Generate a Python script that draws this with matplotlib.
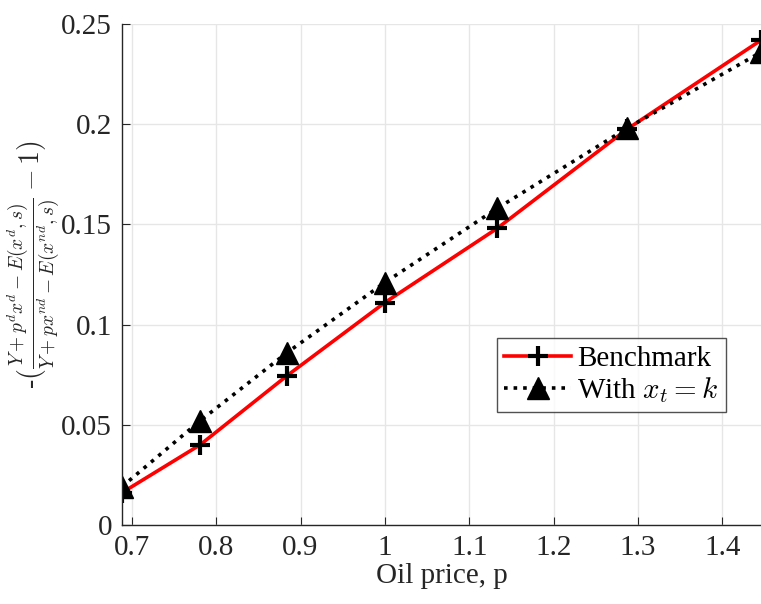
import matplotlib
matplotlib.use("Agg")
import matplotlib.pyplot as plt

plt.rcParams['font.family'] = ['Liberation Serif', 'DejaVu Serif']
plt.rcParams['mathtext.fontset'] = 'cm'

oil_price = [0.688, 0.781, 0.884, 1.0, 1.133, 1.287, 1.446]
benchmark = [0.016, 0.040, 0.0745, 0.111, 0.148, 0.1975, 0.242]
with_xt_k = [0.019, 0.052, 0.086, 0.121, 0.158, 0.198, 0.236]

xticks = [0.7, 0.8, 0.9, 1.0, 1.1, 1.2, 1.3, 1.4]
xticklabels = ['0.7', '0.8', '0.9', '1', '1.1', '1.2', '1.3', '1.4']
yticks = [0, 0.05, 0.1, 0.15, 0.2, 0.25]
yticklabels = ['0', '0.05', '0.1', '0.15', '0.2', '0.25']

fig = plt.figure(figsize=(7.61, 6.04), dpi=100)
ax = fig.add_axes([0.160, 0.131, 0.840, 0.829])

ax.plot(oil_price, benchmark, color='red', lw=2.6, marker='+', ms=15,
        mec='black', mew=3, label='Benchmark')
ax.plot(oil_price, with_xt_k, color='black', lw=2.6, ls=':', marker='^', ms=16,
        mfc='black', mec='black', label='With $x_t = k$')

ax.set_xlim(0.688, 1.446)
ax.set_ylim(0, 0.25)
ax.set_xticks(xticks)
ax.set_xticklabels(xticklabels)
ax.set_yticks(yticks)
ax.set_yticklabels(yticklabels)
ax.grid(True, color='#e6e6e6', lw=1)
ax.set_axisbelow(True)
for s in ['top', 'right']:
    ax.spines[s].set_visible(False)
for s in ['left', 'bottom']:
    ax.spines[s].set_color('#262626')
    ax.spines[s].set_linewidth(1.0)
ax.tick_params(direction='in', length=6, labelsize=21, colors='#262626', pad=7)

ax.set_xlabel('Oil price, p', fontsize=21, color='#262626', labelpad=2)
ax.set_ylabel(r'-$(\frac{Y+p^d x^d - E(x^d,s)}{Y+px^{nd}-E(x^{nd},s)} - 1)$',
              fontsize=20, color='#262626')
ax.yaxis.set_label_coords(-0.093, 0.52)

leg = ax.legend(loc='upper left', bbox_to_anchor=(0.587, 0.373), fontsize=21,
                frameon=True, fancybox=False, edgecolor='#262626',
                handlelength=2.3, handletextpad=0.2, borderpad=0.25,
                labelspacing=0.1, borderaxespad=0)
leg.get_frame().set_linewidth(1.0)

fig.savefig('out.png', dpi=100)
